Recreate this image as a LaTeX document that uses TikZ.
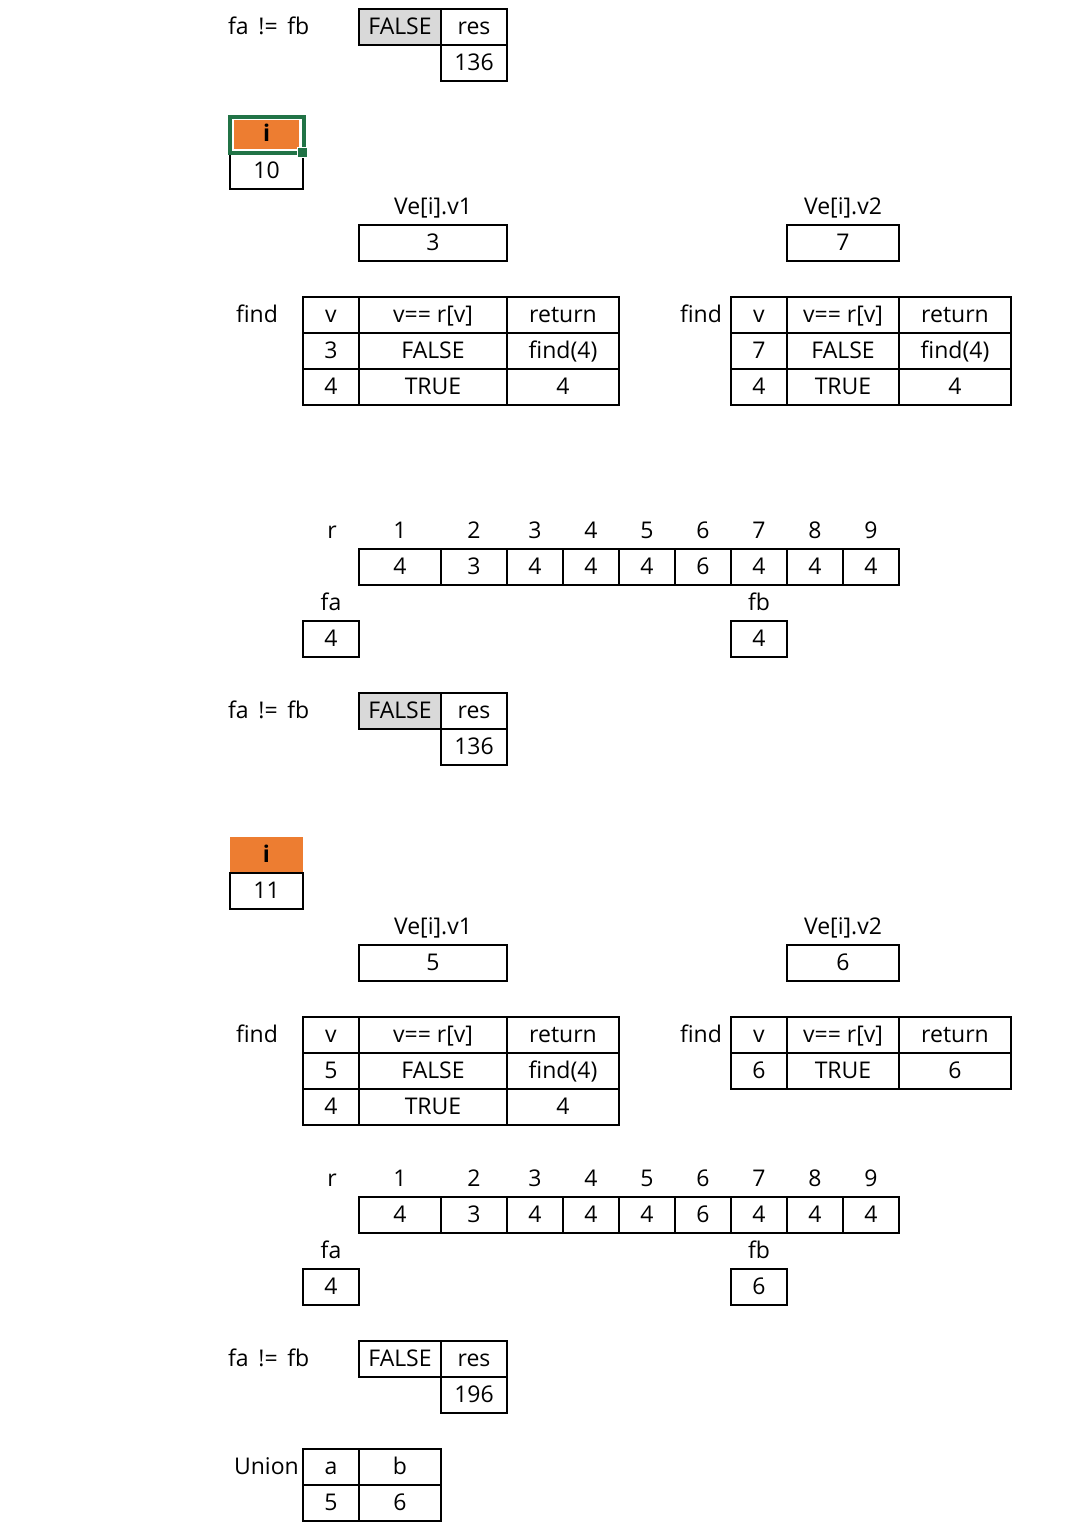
\documentclass[tikz,border=0pt]{standalone}
\usepackage{fontspec}
\setmainfont{Open Sans}
\definecolor{iorange}{HTML}{ED7D31}
\definecolor{cellgray}{HTML}{D9D9D9}
\definecolor{selgreen}{HTML}{217346}
\tikzset{
  cellb/.style={draw=black, line width=1.7pt, inner sep=0pt, minimum height=36pt,
    text height=14pt, text depth=0pt, font=\fontsize{23}{26}\selectfont},
  labb/.style={inner sep=0pt, minimum height=36pt, text height=14pt, text depth=0pt,
    font=\fontsize{23}{26}\selectfont},
  grayfill/.style={fill=cellgray},
  orangehead/.style={fill=iorange, inner sep=0pt, text height=14pt, text depth=0pt,
    font=\fontsize{23}{26}\selectfont\bfseries},
  selframe/.style={draw=selgreen, line width=4pt},
  selhandle/.style={fill=selgreen, draw=white, line width=1pt}
}
% [style] name x1 x2 ytop text
\newcommand{\cellbox}[6][]{\node[cellb,#1,minimum width={(#4-#3)*1pt}] (#2) at ({(#3+#4)/2},{#5+18}) {#6};}
% [style] name xcenter ytop text
\newcommand{\lab}[5][]{\node[labb,#1] (#2) at ({#3},{#4+18}) {#5};}
\newcommand{\faneq}{fa\hspace{0.42em}!=\hspace{0.42em}fb}
\begin{document}
\begin{tikzpicture}[x=1pt,y=-1pt]
\useasboundingbox (0,0) rectangle (1070,1540);
% ---------- top result block ----------
\lab[anchor=west]{fneA}{228}{9}{\faneq}
\cellbox[grayfill]{falseA}{359}{441}{9}{FALSE}
\cellbox{resA}{441}{507}{9}{res}
\cellbox{resvA}{441}{507}{45}{136}
% ---------- i = 10 ----------
\cellbox{ivalA}{230}{303}{153}{10}
\node[orangehead, minimum width=65pt, minimum height=29pt] (iheadA) at (266.75,134.5) {i};
\draw[selframe] (230,116.5) rectangle (303.5,153);
\node[selhandle, inner sep=0pt, minimum size=10pt] (handleA) at (302.25,152) {};
\lab{velabA1}{433}{189}{Ve[i].v1}
\lab{velabA2}{843}{189}{Ve[i].v2}
\cellbox{veA1}{359}{507}{225}{3}
\cellbox{veA2}{787}{899}{225}{7}
% find tables
\lab{findA1}{257}{297}{find}
\cellbox{fA1h1}{303}{359}{297}{v}
\cellbox{fA1h2}{359}{507}{297}{v== r[v]}
\cellbox{fA1h3}{507}{619}{297}{return}
\cellbox{fA1a1}{303}{359}{333}{3}
\cellbox{fA1a2}{359}{507}{333}{FALSE}
\cellbox{fA1a3}{507}{619}{333}{find(4)}
\cellbox{fA1b1}{303}{359}{369}{4}
\cellbox{fA1b2}{359}{507}{369}{TRUE}
\cellbox{fA1b3}{507}{619}{369}{4}
\lab{findA2}{701}{297}{find}
\cellbox{fA2h1}{731}{787}{297}{v}
\cellbox{fA2h2}{787}{899}{297}{v== r[v]}
\cellbox{fA2h3}{899}{1011}{297}{return}
\cellbox{fA2a1}{731}{787}{333}{7}
\cellbox{fA2a2}{787}{899}{333}{FALSE}
\cellbox{fA2a3}{899}{1011}{333}{find(4)}
\cellbox{fA2b1}{731}{787}{369}{4}
\cellbox{fA2b2}{787}{899}{369}{TRUE}
\cellbox{fA2b3}{899}{1011}{369}{4}
% r array
\lab{rlabA}{332}{513}{r}
\foreach \xa/\xb/\k/\val in {359/441/1/4, 441/507/2/3, 507/563/3/4, 563/619/4/4, 619/675/5/4, 675/731/6/6, 731/787/7/4, 787/843/8/4, 843/899/9/4}{
  \lab{ridxA\k}{(\xa+\xb)/2}{513}{\k}
  \cellbox{rvalA\k}{\xa}{\xb}{549}{\val}
}
\lab{falabA}{331}{585}{fa}
\lab{fblabA}{759}{585}{fb}
\cellbox{favA}{303}{359}{621}{4}
\cellbox{fbvA}{731}{787}{621}{4}
\lab[anchor=west]{fneB}{228}{693}{\faneq}
\cellbox[grayfill]{falseB}{359}{441}{693}{FALSE}
\cellbox{resB}{441}{507}{693}{res}
\cellbox{resvB}{441}{507}{729}{136}
% ---------- i = 11 ----------
\node[orangehead, minimum width=73pt, minimum height=36pt] (iheadB) at (266.5,855) {i};
\cellbox{ivalB}{230}{303}{873}{11}
\lab{velabB1}{433}{909}{Ve[i].v1}
\lab{velabB2}{843}{909}{Ve[i].v2}
\cellbox{veB1}{359}{507}{945}{5}
\cellbox{veB2}{787}{899}{945}{6}
\lab{findB1}{257}{1017}{find}
\cellbox{fB1h1}{303}{359}{1017}{v}
\cellbox{fB1h2}{359}{507}{1017}{v== r[v]}
\cellbox{fB1h3}{507}{619}{1017}{return}
\cellbox{fB1a1}{303}{359}{1053}{5}
\cellbox{fB1a2}{359}{507}{1053}{FALSE}
\cellbox{fB1a3}{507}{619}{1053}{find(4)}
\cellbox{fB1b1}{303}{359}{1089}{4}
\cellbox{fB1b2}{359}{507}{1089}{TRUE}
\cellbox{fB1b3}{507}{619}{1089}{4}
\lab{findB2}{701}{1017}{find}
\cellbox{fB2h1}{731}{787}{1017}{v}
\cellbox{fB2h2}{787}{899}{1017}{v== r[v]}
\cellbox{fB2h3}{899}{1011}{1017}{return}
\cellbox{fB2a1}{731}{787}{1053}{6}
\cellbox{fB2a2}{787}{899}{1053}{TRUE}
\cellbox{fB2a3}{899}{1011}{1053}{6}
\lab{rlabB}{332}{1161}{r}
\foreach \xa/\xb/\k/\val in {359/441/1/4, 441/507/2/3, 507/563/3/4, 563/619/4/4, 619/675/5/4, 675/731/6/6, 731/787/7/4, 787/843/8/4, 843/899/9/4}{
  \lab{ridxB\k}{(\xa+\xb)/2}{1161}{\k}
  \cellbox{rvalB\k}{\xa}{\xb}{1197}{\val}
}
\lab{falabB}{331}{1233}{fa}
\lab{fblabB}{759}{1233}{fb}
\cellbox{favB}{303}{359}{1269}{4}
\cellbox{fbvB}{731}{787}{1269}{6}
\lab[anchor=west]{fneC}{228}{1341}{\faneq}
\cellbox{falseC}{359}{441}{1341}{FALSE}
\cellbox{resC}{441}{507}{1341}{res}
\cellbox{resvC}{441}{507}{1377}{196}
% Union
\lab[anchor=east]{unionlab}{299}{1449}{Union}
\cellbox{ua}{303}{359}{1449}{a}
\cellbox{ub}{359}{441}{1449}{b}
\cellbox{uav}{303}{359}{1485}{5}
\cellbox{ubv}{359}{441}{1485}{6}
\end{tikzpicture}
\end{document}
